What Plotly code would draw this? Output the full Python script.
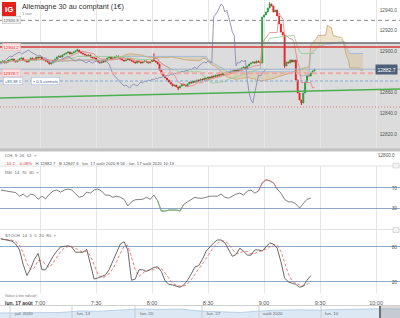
import pandas as pd
import plotly.graph_objects as go

W, H = 400, 318
FONT = "Arial, Liberation Sans, sans-serif"


def px(x):
    return x / W


def py(y):
    return 1 - y / H


def dom(top, bot):
    return [1 - bot / H, 1 - top / H]


# ---------------- data ----------------
start = pd.Timestamp("2020-08-17 06:39")

closes = [
    12889.7, 12890.7, 12888.7, 12889.7, 12891.6,
    12891.6, 12892.6, 12890.7, 12889.7, 12891.6,
    12892.6, 12893.6, 12891.6, 12890.7, 12889.7,
    12891.6, 12893.6, 12892.6, 12891.6, 12894.5,
    12893.6, 12894.5, 12892.6, 12891.6, 12890.7,
    12889.7, 12887.7, 12888.7, 12890.7, 12892.6,
    12894.5, 12895.5, 12894.5, 12896.5, 12897.4,
    12898.4, 12899.4, 12897.4, 12898.4, 12899.4,
    12900.3, 12901.3, 12899.4, 12898.4, 12897.4,
    12896.5, 12895.5, 12896.5, 12894.5, 12893.6,
    12893.6, 12891.6, 12889.7, 12888.7, 12890.7,
    12889.7, 12891.6, 12893.6, 12894.5, 12892.6,
    12893.6, 12894.5, 12895.5, 12893.6, 12892.6,
    12891.6, 12890.7, 12891.6, 12892.6, 12891.6,
    12890.7, 12889.7, 12888.7, 12890.7, 12889.7,
    12888.7, 12889.7, 12890.7, 12889.7, 12888.7,
    12889.7, 12891.6, 12890.7, 12889.7, 12887.7,
    12881.9, 12878.1, 12876.1, 12874.2, 12872.3,
    12870.3, 12868.4, 12866.4, 12867.4, 12865.5,
    12864.5, 12866.4, 12868.4, 12867.4, 12866.4,
    12868.4, 12870.3, 12869.4, 12871.3, 12870.3,
    12872.3, 12871.3, 12873.2, 12872.3, 12874.2,
    12873.2, 12875.2, 12874.2, 12876.1, 12875.2,
    12877.1, 12876.1, 12878.1, 12877.1, 12879.0,
    12878.1, 12880.0, 12879.0, 12881.0, 12880.0,
    12881.9, 12881.0, 12882.9, 12881.9, 12883.9,
    12884.8, 12882.9, 12885.8, 12887.7, 12888.7,
    12889.7, 12888.7, 12890.7, 12889.7, 12888.7,
    12933.2, 12935.2, 12938.1, 12941.9, 12945.8,
    12943.9, 12938.1, 12940.0, 12934.2, 12926.5,
    12918.7, 12915.8, 12885.8, 12889.7, 12888.7,
    12891.6, 12889.7, 12891.6, 12872.3, 12859.7,
    12852.9, 12850.0, 12859.7, 12870.3, 12877.1,
    12876.1, 12879.0, 12881.0, 12882.7,
]
first_open = 12889.2
wick_hi_idx = [41, 82, 144, 146]
wick_hi_val = [12902.5, 12898.0, 12947.8, 12942.0]
wick_lo_idx = [95, 152, 161]
wick_lo_val = [12862.5, 12884.0, 12848.0]

# reference levels
stop_level, stop_text = 12930.0, "12926.9"
zone_top = 12908.0
red_level = 12904.2
pink_level = 12878.7
position_level = 12871.3
dotted_level = 12846.1
last_price = 12882.7
trend_prices = [12854.8, 12863.5]

rsi_vals = [
    66, 65, 64, 62, 61, 54, 58, 52, 58, 56,
    48, 54, 49, 58, 64, 66, 62, 66, 68, 66,
    58, 52, 54, 62, 60, 66, 68, 64, 56, 56,
    52, 54, 52, 48, 35, 43, 47, 48, 48, 52,
    48, 56, 45, 25, 25, 27, 27, 27, 25, 38,
    43, 48, 52, 50, 50, 52, 54, 54, 54, 58,
    52, 50, 54, 58, 60, 56, 64, 66, 60, 64,
    80, 86, 84, 80, 68, 60, 48, 43, 43, 39,
    31, 39, 48, 50,
]
stoch_k = [
    94, 93, 92, 90, 85, 75, 50, 31, 43, 59,
    69, 41, 41, 53, 64, 73, 80, 81, 82, 80,
    71, 71, 71, 76, 48, 25, 27, 29, 32, 41,
    55, 68, 85, 89, 75, 23, 25, 41, 41, 38,
    41, 45, 46, 38, 22, 16, 15, 13, 11, 15,
    23, 34, 46, 48, 59, 73, 80, 87, 92, 92,
    87, 76, 64, 67, 78, 73, 66, 66, 75, 75,
    73, 80, 87, 85, 78, 55, 27, 20, 18, 16,
    11, 13, 23, 31,
]
nav_vals = [12500, 12520, 12600, 12550, 12700, 12680, 12800, 12900, 12850, 12900,
            12700, 12600, 12550, 12700, 12800, 12820, 12790, 12850, 12900, 12920, 12900]
nav_labels = ["juil. 2020", "lun. 13", "lun. 20", "lun. 27", "août 2020", "lun. 10"]
time_ticks_fmt = "%-H:%M"

# ---------------- derived ----------------
n = len(closes)
times = [start + pd.Timedelta(minutes=i) for i in range(n)]
opens = [first_open] + closes[:-1]
highs = [max(o, c) for o, c in zip(opens, closes)]
lows = [min(o, c) for o, c in zip(opens, closes)]
for i, v in zip(wick_hi_idx, wick_hi_val):
    highs[i] = v
for i, v in zip(wick_lo_idx, wick_lo_val):
    lows[i] = v

hs, ls = pd.Series(highs), pd.Series(lows)


def mid(k):
    return (hs.rolling(k, min_periods=1).max() + ls.rolling(k, min_periods=1).min()) / 2


tenkan = mid(9)
kijun = mid(26)
span_a = (tenkan + kijun) / 2
span_b = mid(52)
fwd_times = [t + pd.Timedelta(minutes=26) for t in times]
back_times = [t - pd.Timedelta(minutes=26) for t in times]

ind_times = [start + pd.Timedelta(minutes=2 * k) for k in range(len(rsi_vals))]
stoch_d = pd.Series(stoch_k).rolling(3, min_periods=1).mean().tolist()


def band(vals, cond):
    out = []
    for k, v in enumerate(vals):
        near = cond(v) or (k > 0 and cond(vals[k - 1])) or (k < len(vals) - 1 and cond(vals[k + 1]))
        out.append(v if near else None)
    return out


rsi_hi = band(rsi_vals, lambda v: v >= 70)
rsi_lo = band(rsi_vals, lambda v: v <= 30)

x_lo = start + pd.Timedelta(minutes=-0.43)
x_hi = start + pd.Timedelta(minutes=213.8)
price_range = [12804.5, 12949.7]

# ---------------- figure ----------------
fig = go.Figure()

# cloud
fig.add_trace(go.Scatter(x=fwd_times, y=span_b, mode="lines", line=dict(color="#93b5dc", width=0.8),
                         hoverinfo="skip", xaxis="x", yaxis="y"))
fig.add_trace(go.Scatter(x=fwd_times, y=span_a, mode="lines", line=dict(color="#c9a46a", width=0.8),
                         fill="tonexty", fillcolor="rgba(215,188,135,0.4)", hoverinfo="skip",
                         xaxis="x", yaxis="y"))
fig.add_trace(go.Scatter(x=times, y=kijun, mode="lines", line=dict(color="#8fcb8f", width=0.8),
                         hoverinfo="skip", xaxis="x", yaxis="y"))
fig.add_trace(go.Scatter(x=times, y=tenkan, mode="lines", line=dict(color="#e88080", width=0.8),
                         hoverinfo="skip", xaxis="x", yaxis="y"))
fig.add_trace(go.Scatter(x=back_times, y=closes, mode="lines", line=dict(color="#8c8cb8", width=0.9),
                         hoverinfo="skip", xaxis="x", yaxis="y"))
# trend line
fig.add_trace(go.Scatter(x=[x_lo, x_hi], y=trend_prices, mode="lines",
                         line=dict(color="#4caf50", width=1.5), hoverinfo="skip", xaxis="x", yaxis="y"))
# candles
fig.add_trace(go.Candlestick(x=times, open=opens, high=highs, low=lows, close=closes,
                             increasing=dict(line=dict(color="#2f9e3f", width=1), fillcolor="#2f9e3f"),
                             decreasing=dict(line=dict(color="#e2262b", width=1), fillcolor="#e2262b"),
                             whiskerwidth=0, xaxis="x", yaxis="y"))

# RSI
fig.add_trace(go.Scatter(x=ind_times, y=rsi_vals, mode="lines", line=dict(color="#606060", width=0.8),
                         xaxis="x2", yaxis="y2"))
fig.add_trace(go.Scatter(x=ind_times, y=rsi_hi, mode="lines", line=dict(color="#f07070", width=0.8),
                         connectgaps=False, xaxis="x2", yaxis="y2"))
fig.add_trace(go.Scatter(x=ind_times, y=rsi_lo, mode="lines", line=dict(color="#6cc46c", width=0.8),
                         connectgaps=False, xaxis="x2", yaxis="y2"))

# STOCH
fig.add_trace(go.Scatter(x=ind_times, y=stoch_d, mode="lines", line=dict(color="#ef6a6a", width=0.9, dash="3px,2px"),
                         xaxis="x3", yaxis="y3"))
fig.add_trace(go.Scatter(x=ind_times, y=stoch_k, mode="lines", line=dict(color="#585858", width=0.9),
                         xaxis="x3", yaxis="y3"))

# navigator
fig.add_trace(go.Scatter(x=list(range(len(nav_vals))), y=nav_vals, mode="lines", fill="tozeroy",
                         fillcolor="#dde8f5", line=dict(color="#adc6e4", width=0.8), xaxis="x4", yaxis="y4"))

xcommon = dict(type="date", range=[x_lo, x_hi], showgrid=True, gridcolor="#e6e6e6", gridwidth=1,
               tick0="2020-08-17 07:00", dtick=1800000, zeroline=False, showline=False, ticks="")

shapes = []


def hline(level, color, width, dash="solid"):
    shapes.append(dict(type="line", xref="x domain", x0=0, x1=1, yref="y", y0=level, y1=level,
                       line=dict(color=color, width=width, dash=dash)))


shapes.append(dict(type="rect", xref="x domain", x0=0, x1=1, yref="y", y0=price_range[0], y1=zone_top,
                   fillcolor="#dcdcdc", line=dict(width=0), layer="below"))
hline(stop_level, "#8a8a8a", 1, "4px,3px")
hline(zone_top, "#6a6a6a", 1.5)
hline(red_level, "#d63a3a", 1.5)
hline(last_price, "#9fb2cc", 1)
hline(pink_level, "#f2a6a6", 2, "5px,3px")
hline(position_level, "#86a9d6", 1, "3px,2px")
hline(dotted_level, "#e07a7a", 1, "1px,2px")

# separators / frame
for yy, col, wd in [(150, "#c2c2c2", 3), (166, "#e2e2e2", 1), (229.5, "#e2e2e2", 1), (305.5, "#d0d0d0", 1)]:
    shapes.append(dict(type="line", xref="paper", yref="paper", x0=0, x1=1, y0=py(yy), y1=py(yy),
                       line=dict(color=col, width=wd)))
# IG logo
shapes.append(dict(type="rect", xref="paper", yref="paper", x0=px(2), x1=px(16), y0=py(16), y1=py(2),
                   fillcolor="#e3231b", line=dict(width=0)))
# small pane icons
for yy in (165.5, 230):
    shapes.append(dict(type="rect", xref="paper", yref="paper", x0=px(393), x1=px(399), y0=py(yy + 2.5),
                       y1=py(yy - 2.5), fillcolor="#f4f4f4", line=dict(color="#c8c8c8", width=0.6)))
# navigator separators and handle
for xx in (10, 72, 135, 202, 259, 321):
    shapes.append(dict(type="line", xref="paper", yref="paper", x0=px(xx), x1=px(xx), y0=py(318), y1=py(306),
                       line=dict(color="#c4c4c4", width=0.8)))
shapes.append(dict(type="rect", xref="paper", yref="paper", x0=px(380), x1=1, y0=0, y1=py(306),
                   fillcolor="rgba(150,150,150,0.35)", line=dict(width=0)))
shapes.append(dict(type="line", xref="paper", yref="paper", x0=px(380), x1=px(380), y0=0, y1=py(306),
                   line=dict(color="#707070", width=2)))

ann = []


def note(x, y, text, size=4.5, color="#555", xanchor="left", yref="paper", **kw):
    ann.append(dict(x=px(x), y=(py(y) if yref == "paper" else y), xref="paper", yref=yref, text=text,
                    showarrow=False, xanchor=xanchor, yanchor="middle",
                    font=dict(size=size, color=color, family=FONT), **kw))


note(9, 9.3, "<b>IG</b>", size=8, color="white", xanchor="center")
note(20, 7, "Allemagne 30 au comptant (1€)", size=7.3, color="#333")
note(20, 13.5, "1 min", size=4, color="#888")
note(2, stop_level, stop_text, size=4.2, color="#666", yref="y", bgcolor="#f3f3f3",
     bordercolor="#b5b5b5", borderwidth=0.5, borderpad=1)
note(2, red_level, "12904.2", size=4.2, color="#d33", yref="y", bgcolor="#fbe1e1",
     bordercolor="#f0b0b0", borderwidth=0.5, borderpad=1)
note(2, pink_level, "12878.7", size=4.2, color="#d33", yref="y", bgcolor="#fbe1e1",
     bordercolor="#f0b0b0", borderwidth=0.5, borderpad=1)
note(3, position_level, "+83,38 €", size=4.2, color="#3b5a86", yref="y", bgcolor="#ffffff",
     bordercolor="#9ab4d6", borderwidth=0.5, borderpad=1.2)
note(31, position_level, "× 0.5 contrats", size=4.2, color="#3b5a86", yref="y", bgcolor="#ffffff",
     bordercolor="#9ab4d6", borderwidth=0.5, borderpad=1.2)
note(398, last_price, "12882.7", size=5, color="white", xanchor="right", yref="y", bgcolor="#4e6079",
     borderpad=1.5)
note(397, 155, "12800.0", size=4.6, color="#555", xanchor="right")
note(3, 155, "ICH  9  26  52  ×", size=4.3, color="#666")
note(3, 163, "<span style='color:#e03030'>-10.2   -0.08%</span>   H 12882.7   B 12847.6   "
             "lun. 17 août 2020 8:56 - lun. 17 août 2020 10:13", size=4.3, color="#555")
note(3, 172, "RSI  14  70  30  ×", size=4.3, color="#666")
note(3, 236, "STOCH  14  5  5  20  80  ×", size=4.3, color="#666")
note(3, 296, "Valeur à titre indicatif", size=3.4, color="#777")
note(3, 302.5, "<b>lun. 17 août</b>", size=5, color="#333")
for xx, lab in zip((12, 75, 138, 205, 261, 323), nav_labels):
    note(xx, 313, lab, size=4.4, color="#666")

fig.update_layout(
    width=W, height=H, margin=dict(l=0, r=0, t=0, b=0),
    paper_bgcolor="white", plot_bgcolor="white", showlegend=False,
    font=dict(family=FONT),
    xaxis=dict(xcommon, anchor="y", showticklabels=False, rangeslider=dict(visible=False)),
    xaxis2=dict(xcommon, anchor="y2", matches="x", showticklabels=False),
    xaxis3=dict(xcommon, anchor="y3", matches="x", showticklabels=True, tickformat=time_ticks_fmt,
                tickfont=dict(size=5.5, color="#555"), ticklabelstandoff=5),
    xaxis4=dict(anchor="y4", range=[0, len(nav_vals) - 1], visible=False),
    yaxis=dict(domain=dom(0, 150), range=price_range, side="right", ticklabelposition="inside",
               tickvals=[12820, 12840, 12860, 12900, 12920, 12940], tickformat=".1f",
               tickfont=dict(size=4.8, color="#555"), showgrid=False, zeroline=False, ticks=""),
    yaxis2=dict(domain=dom(166, 229), range=[-10, 112.9], side="right", ticklabelposition="inside",
                tickvals=[30, 70], tickfont=dict(size=4.8, color="#555"), showgrid=True,
                gridcolor="#8ea8c6", gridwidth=1.2, zeroline=False, ticks=""),
    yaxis3=dict(domain=dom(230, 293), range=[1.14, 109.1], side="right", ticklabelposition="inside",
                tickvals=[20, 80], tickfont=dict(size=4.8, color="#555"), showgrid=True,
                gridcolor="#8ea8c6", gridwidth=1.2, zeroline=False, ticks=""),
    yaxis4=dict(domain=dom(306, 318), range=[12000, 13200], visible=False),
    shapes=shapes, annotations=ann,
)

fig.write_html("out.html")
